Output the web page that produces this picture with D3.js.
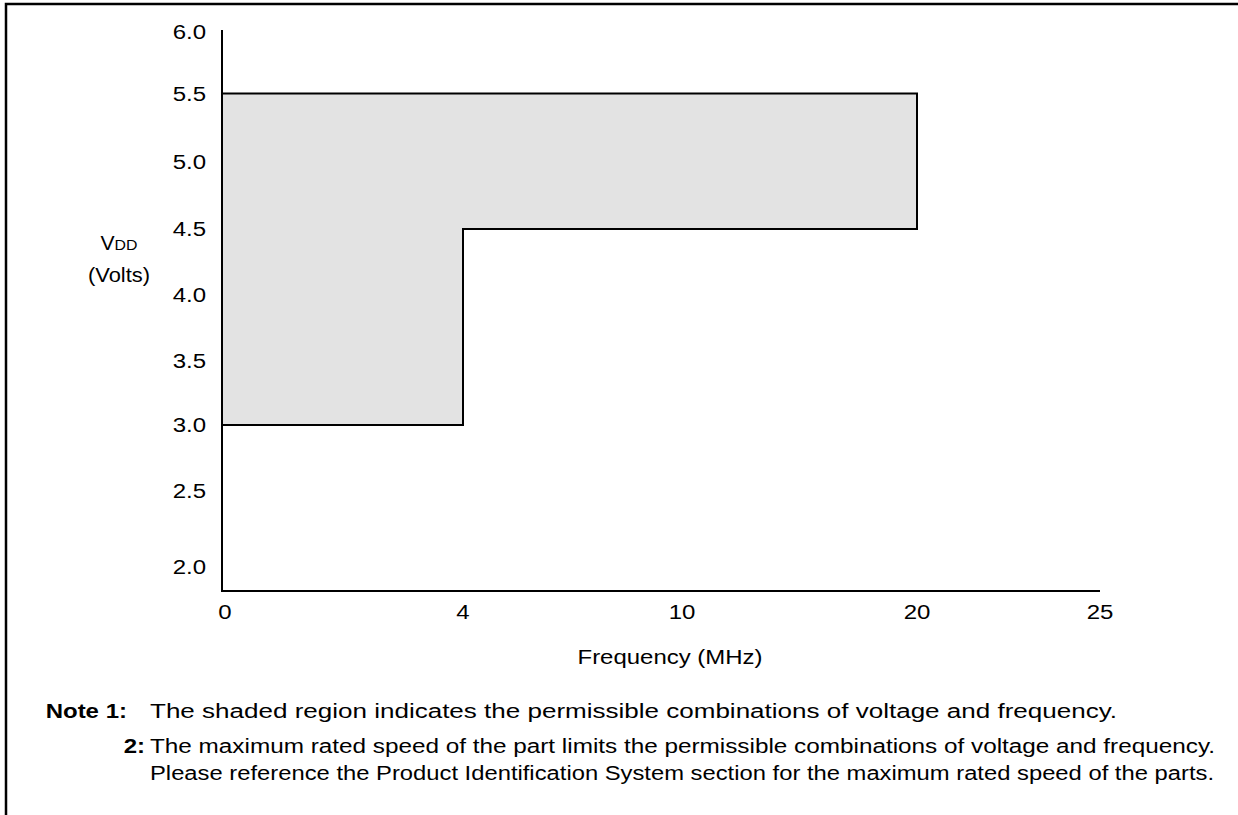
<!DOCTYPE html>
<html>
<head>
<meta charset="utf-8">
<script src="https://cdn.jsdelivr.net/npm/d3@7"></script>
<style>
  html, body { margin: 0; padding: 0; background: #fff; overflow: hidden; }
  svg { display: block; font-family: "Liberation Sans", Arial, sans-serif; }
</style>
</head>
<body>
<svg id="chart" width="1238" height="815"></svg>
<script>
// ---- Data ----
const freqTicks = [0, 4, 10, 20, 25];            // MHz (axis is not linear in the source)
const voltTicks = [2.0, 2.5, 3.0, 3.5, 4.0, 4.5, 5.0, 5.5, 6.0];
const regionFreq = [0, 4, 4, 20, 20, 0];          // outline of shaded operating region
const regionVolt = [3.0, 3.0, 4.5, 4.5, 5.5, 5.5];
const xTitle = "Frequency (MHz)";
const yTitleMain = "V", yTitleSub = "DD", yTitleUnit = "(Volts)";
const notes = [
  { label: "Note 1:", text: "The shaded region indicates the permissible combinations of voltage and frequency." },
  { label: "2:", text: "The maximum rated speed of the part limits the permissible combinations of voltage and frequency." },
  { label: "", text: "Please reference the Product Identification System section for the maximum rated speed of the parts." }
];

// ---- Layout ----
const xPix = [222, 463, 682, 917, 1100];
const yPix = [567, 491, 425, 361, 295, 229, 162, 93.5, 32];
const FS = 20, STRETCH = 1.2;
const svg = d3.select("#chart");

const x = d3.scaleLinear().domain(freqTicks).range(xPix);
const y = d3.scaleLinear().domain(voltTicks).range(yPix);

function stretch(sel, width) {
  sel.each(function () {
    const w = width != null ? width : this.getComputedTextLength() * STRETCH;
    d3.select(this).attr("textLength", w).attr("lengthAdjust", "spacingAndGlyphs");
  });
  return sel;
}

// outer frame (only top and left edges visible in the source)
svg.append("path")
  .attr("d", "M6,815 L6,4 L1238,4")
  .attr("fill", "none").attr("stroke", "#000").attr("stroke-width", 2.5);

// shaded region
const pts = regionFreq.map((f, i) => [x(f), y(regionVolt[i])]);
svg.append("path")
  .attr("d", d3.line()(pts))
  .attr("fill", "#e3e3e3")
  .attr("stroke", "#000").attr("stroke-width", 2)
  .attr("stroke-linejoin", "miter");

// axes lines
const x0 = x(0), axisY = 591, axisTop = 30;
svg.append("line").attr("x1", x0).attr("x2", x0).attr("y1", axisTop).attr("y2", axisY + 1)
  .attr("stroke", "#000").attr("stroke-width", 2);
svg.append("line").attr("x1", x0 - 1).attr("x2", x(25)).attr("y1", axisY).attr("y2", axisY)
  .attr("stroke", "#000").attr("stroke-width", 2);

// y tick labels
stretch(svg.selectAll("text.ytick").data(voltTicks).join("text")
  .attr("class", "ytick")
  .attr("x", 206).attr("y", d => y(d))
  .attr("dy", "0.35em")
  .attr("text-anchor", "end")
  .attr("font-size", FS)
  .text(d => d.toFixed(1)));

// x tick labels
stretch(svg.selectAll("text.xtick").data(freqTicks).join("text")
  .attr("class", "xtick")
  .attr("x", d => x(d) + (d === 0 ? 3 : 0)).attr("y", 612)
  .attr("dy", "0.35em")
  .attr("text-anchor", "middle")
  .attr("font-size", FS)
  .text(d => d));

// x title
stretch(svg.append("text").attr("x", 670).attr("y", 657).attr("dy", "0.35em")
  .attr("text-anchor", "middle").attr("font-size", FS).text(xTitle), 185);

// y title
const yt = svg.append("text").attr("x", 119).attr("y", 243).attr("dy", "0.35em")
  .attr("text-anchor", "middle").attr("font-size", FS);
yt.append("tspan").text(yTitleMain);
yt.append("tspan").attr("font-size", 15).text(yTitleSub);
stretch(yt, 37);
stretch(svg.append("text").attr("x", 119).attr("y", 275).attr("dy", "0.35em")
  .attr("text-anchor", "middle").attr("font-size", FS).text(yTitleUnit), 62);

// notes
const noteY = [711, 746, 773];
const labelEnd = [127, 145];
const noteWidths = [967, 1065, 1064];
notes.forEach((n, i) => {
  if (n.label) {
    stretch(svg.append("text").attr("x", labelEnd[i]).attr("y", noteY[i]).attr("dy", "0.35em")
      .attr("text-anchor", "end").attr("font-size", FS).attr("font-weight", "bold").text(n.label));
  }
  stretch(svg.append("text").attr("x", 150).attr("y", noteY[i]).attr("dy", "0.35em")
    .attr("font-size", FS).text(n.text), noteWidths[i]);
});
</script>
</body>
</html>
